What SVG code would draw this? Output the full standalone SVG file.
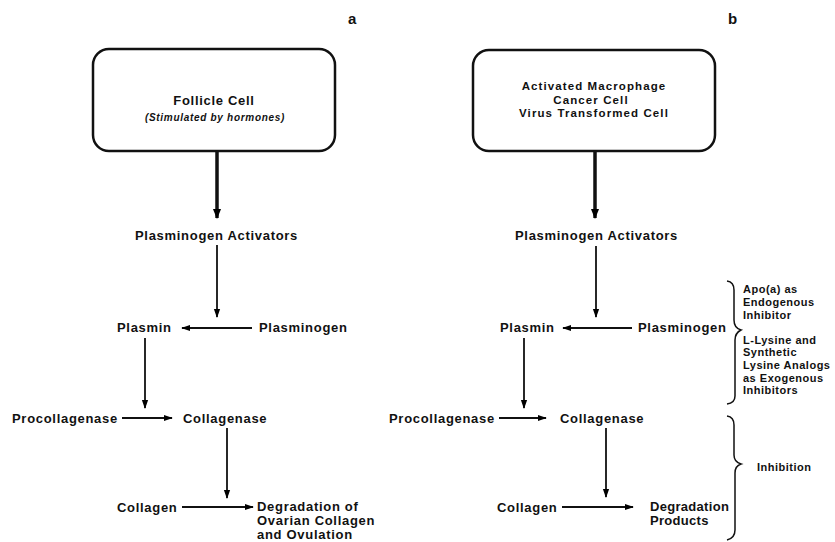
<svg xmlns="http://www.w3.org/2000/svg" width="835" height="542" viewBox="0 0 835 542">
<defs>
<marker id="ah" viewBox="0 0 10 10" refX="9" refY="5" markerWidth="5" markerHeight="5" orient="auto" markerUnits="strokeWidth"><path d="M0,1.5 L10,5 L0,8.5 Z" fill="#000"/></marker>
<marker id="ahT" viewBox="0 0 10 10" refX="9" refY="5" markerWidth="3" markerHeight="3" orient="auto" markerUnits="strokeWidth"><path d="M0,1 L10,5 L0,9 Z" fill="#000"/></marker>
</defs>
<style>
text{font-family:"Liberation Sans",Arial,sans-serif;font-weight:bold;fill:#111}
.lb{font-size:13px;letter-spacing:0.7px}
.bx{font-size:11.5px;letter-spacing:1.1px}
.sm{font-size:10px;font-style:italic;letter-spacing:0.7px}
.sd{font-size:11px;letter-spacing:0.5px}
.pl{font-size:15px}
.box{fill:#fff;stroke:#111;stroke-width:2.5}
.th{stroke:#111;stroke-width:1.8;fill:none}
.tk{stroke:#111;stroke-width:3.5;fill:none}
.br{stroke:#111;stroke-width:1.5;fill:none}
</style>
<rect width="835" height="542" fill="#fff"/>
<text class="pl" x="348" y="24">a</text>
<text class="pl" x="728" y="24">b</text>
<g id="boxA">
<rect class="box" x="93" y="49" width="242" height="102" rx="16"/>
<text class="lb" x="214" y="105" text-anchor="middle">Follicle Cell</text>
<text class="sm" x="215" y="121" text-anchor="middle">(Stimulated by hormones)</text>
</g>
<g id="boxB">
<rect class="box" x="473" y="50" width="242" height="101" rx="16"/>
<text class="bx" x="594" y="90" text-anchor="middle">Activated Macrophage</text>
<text class="bx" x="591" y="103.5" text-anchor="middle">Cancer Cell</text>
<text class="bx" x="594" y="117" text-anchor="middle">Virus Transformed Cell</text>
</g>
<g id="paA"><text class="lb" x="135" y="240">Plasminogen Activators</text></g>
<g id="plasminA"><text class="lb" x="117" y="332">Plasmin</text></g>
<g id="plasminogenA"><text class="lb" x="259" y="332">Plasminogen</text></g>
<g id="procolA"><text class="lb" x="12" y="423">Procollagenase</text></g>
<g id="colA"><text class="lb" x="183" y="423">Collagenase</text></g>
<g id="collagenA"><text class="lb" x="117" y="512">Collagen</text></g>
<g id="degA"><text class="lb" x="257" y="511">Degradation of</text><text class="lb" x="257" y="525">Ovarian Collagen</text><text class="lb" x="257" y="539">and Ovulation</text></g>
<g id="paB"><text class="lb" x="515" y="240">Plasminogen Activators</text></g>
<g id="plasminB"><text class="lb" x="500" y="332">Plasmin</text></g>
<g id="plasminogenB"><text class="lb" x="638" y="332">Plasminogen</text></g>
<g id="procolB"><text class="lb" x="389" y="423">Procollagenase</text></g>
<g id="colB"><text class="lb" x="560" y="423">Collagenase</text></g>
<g id="collagenB"><text class="lb" x="497" y="512">Collagen</text></g>
<g id="degB"><text class="lb" x="650" y="511" style="letter-spacing:0.3px">Degradation</text><text class="lb" x="650" y="525" style="letter-spacing:0.3px">Products</text></g>
<g id="inh1"><text class="sd" x="743" y="293">Apo(a) as</text><text class="sd" x="743" y="306">Endogenous</text><text class="sd" x="743" y="319">Inhibitor</text></g>
<g id="inh2"><text class="sd" x="743" y="344">L-Lysine and</text><text class="sd" x="743" y="356">Synthetic</text><text class="sd" x="743" y="369">Lysine Analogs</text><text class="sd" x="743" y="382">as Exogenous</text><text class="sd" x="743" y="394">Inhibitors</text></g>
<g id="inh3"><text class="sd" x="757" y="471">Inhibition</text></g>
<g id="connectors">
<line class="tk" x1="217" y1="151" x2="217" y2="218" marker-end="url(#ahT)"/>
<line class="tk" x1="595" y1="151" x2="595" y2="218" marker-end="url(#ahT)"/>
<line class="th" x1="217" y1="245" x2="217" y2="317" marker-end="url(#ah)"/>
<line class="th" x1="596" y1="246" x2="596" y2="317" marker-end="url(#ah)"/>
<line class="th" x1="252" y1="328" x2="182" y2="328" marker-end="url(#ah)"/>
<line class="th" x1="632" y1="328" x2="563" y2="328" marker-end="url(#ah)"/>
<line class="th" x1="145" y1="338" x2="145" y2="408" marker-end="url(#ah)"/>
<line class="th" x1="524" y1="338" x2="524" y2="408" marker-end="url(#ah)"/>
<line class="th" x1="122" y1="418" x2="172" y2="418" marker-end="url(#ah)"/>
<line class="th" x1="499" y1="418" x2="546" y2="418" marker-end="url(#ah)"/>
<line class="th" x1="227" y1="428" x2="227" y2="498" marker-end="url(#ah)"/>
<line class="th" x1="606" y1="428" x2="606" y2="497" marker-end="url(#ah)"/>
<line class="th" x1="182" y1="507" x2="253" y2="507" marker-end="url(#ah)"/>
<line class="th" x1="562" y1="507" x2="633" y2="507" marker-end="url(#ah)"/>
<path class="br" d="M727,281 Q734,282 734,290 L734,320 Q734,328 741,330 Q735,333 735,340 L735,396 Q735,403 727,404"/>
<path class="br" d="M727,416 Q734,417 734,425 L734,455 Q734,462 741,464 Q735,466 735,473 L735,530 Q735,538 727,540"/>
</g>
</svg>
